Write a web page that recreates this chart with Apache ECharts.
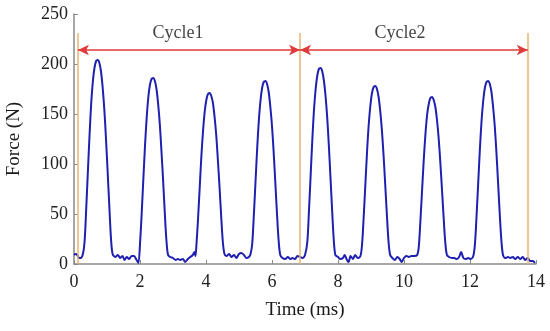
<!DOCTYPE html>
<html>
<head>
<meta charset="utf-8">
<script src="https://cdn.jsdelivr.net/npm/echarts@6/dist/echarts.min.js"></script>
<style>html,body{margin:0;padding:0;background:#fff;}#c{width:550px;height:331px;}</style>
</head>
<body>
<div id="c"></div>
<script>
// Time (ms)
var timeMs = [
 0, 0.05, 0.1, 0.15, 0.2, 0.27,
 0.32, 0.37, 0.42, 0.47, 0.52, 0.57, 0.62, 0.67, 0.72, 0.77, 0.82, 0.87, 0.92, 0.97, 1.02, 1.07, 1.12, 1.17,
 1.25, 1.33, 1.4, 1.47, 1.53, 1.6, 1.67, 1.75, 1.82, 1.88, 1.95,
 2.00, 2.05, 2.10, 2.15, 2.20, 2.25, 2.30, 2.35, 2.40, 2.45, 2.50, 2.55, 2.60, 2.65, 2.70, 2.75, 2.80, 2.85,
 2.92, 3.0, 3.08, 3.15, 3.22, 3.3, 3.37, 3.45, 3.52, 3.6, 3.65, 3.68,
 3.71, 3.76, 3.81, 3.86, 3.91, 3.96, 4.01, 4.06, 4.11, 4.16, 4.21, 4.26, 4.31, 4.36, 4.41, 4.46, 4.51, 4.56,
 4.62, 4.7, 4.77, 4.85, 4.92, 5.0, 5.07, 5.15, 5.22, 5.3, 5.35,
 5.40, 5.45, 5.50, 5.55, 5.60, 5.65, 5.70, 5.75, 5.80, 5.85, 5.90, 5.95, 6.00, 6.05, 6.10, 6.15, 6.20, 6.25,
 6.32, 6.4, 6.48, 6.55, 6.62, 6.7, 6.77, 6.85, 6.92, 7.0,
 7.07, 7.12, 7.17, 7.22, 7.27, 7.32, 7.37, 7.42, 7.47, 7.52, 7.57, 7.62, 7.67, 7.72, 7.77, 7.82, 7.87, 7.92,
 8.0, 8.07, 8.15, 8.2, 8.27, 8.32, 8.38, 8.45, 8.52, 8.6, 8.68,
 8.73, 8.78, 8.83, 8.88, 8.93, 8.98, 9.03, 9.08, 9.13, 9.18, 9.23, 9.28, 9.33, 9.38, 9.43, 9.48, 9.53, 9.58,
 9.65, 9.72, 9.8, 9.87, 9.93, 10.0, 10.07, 10.15, 10.22, 10.3, 10.4,
 10.45, 10.50, 10.55, 10.60, 10.65, 10.70, 10.75, 10.80, 10.85, 10.90, 10.95, 11.00, 11.05, 11.10, 11.15, 11.20, 11.25, 11.30,
 11.37, 11.45, 11.52, 11.6, 11.67, 11.73, 11.8, 11.87, 11.95, 12.02, 12.1,
 12.15, 12.20, 12.25, 12.30, 12.35, 12.40, 12.45, 12.50, 12.55, 12.60, 12.65, 12.70, 12.75, 12.80, 12.85, 12.90, 12.95, 13.00,
 13.07, 13.15, 13.22, 13.3, 13.37, 13.45, 13.52, 13.6, 13.67, 13.75, 13.82, 13.9, 13.97
];
// Force (N)
var forceN = [
 9, 10, 9, 6, 6, 10,
 22, 55, 92, 128, 160, 182, 196, 203, 204, 201, 192, 176, 154, 125, 92, 58, 26, 10,
 7, 9, 6, 8, 4, 7, 5, 8, 8, 5, 1,
 20, 50, 84, 117, 145, 166, 179, 185, 186, 183, 175, 160, 140, 113, 84, 52, 24, 9,
 7, 6, 4, 5, 4, 5, 2, 5, 7, 9, 12, 8,
 19, 46, 77, 108, 133, 152, 164, 170, 171, 168, 161, 147, 129, 104, 77, 48, 22, 10,
 8, 10, 7, 9, 6, 10, 11, 9, 6, 7, 10,
 20, 49, 82, 115, 143, 163, 176, 182, 183, 180, 172, 157, 138, 112, 82, 51, 24, 9,
 6, 5, 7, 5, 6, 5, 8, 7, 6, 9,
 22, 53, 88, 123, 153, 174, 188, 195, 196, 193, 184, 169, 148, 120, 88, 55, 25, 9,
 7, 5, 6, 9, 4, 2, 8, 5, 9, 6, 8,
 20, 48, 80, 112, 139, 158, 171, 177, 178, 175, 167, 153, 134, 109, 80, 50, 23, 9,
 6, 4, 7, 5, 2, 6, 8, 7, 8, 8, 9,
 18, 45, 75, 105, 130, 149, 160, 166, 167, 164, 157, 144, 126, 102, 75, 47, 22, 9,
 7, 6, 6, 5, 7, 12, 6, 5, 6, 5, 8,
 20, 49, 82, 115, 143, 163, 176, 182, 183, 180, 172, 157, 138, 112, 82, 51, 24, 9,
 6, 7, 6, 7, 5, 7, 5, 7, 4, 6, 3, 3, 1
];
// Annotations
var cycleBounds = [0.12, 6.85, 13.75];
var boundaryTop = 231;
var arrowLevel = 214;
var cycleNames = ['Cycle1', 'Cycle2'];
var cycleLabelX = [3.15, 9.88];
var cycleLabelY = 231;
var xTicks = {min: 0, max: 14, interval: 2};
var yTicks = {min: 0, max: 250, interval: 50};

var lineData = timeMs.map(function (t, i) { return [t, forceN[i]]; });
var font = 'Liberation Serif';

var vLines = cycleBounds.map(function (x) {
  return [{coord: [x, 0]}, {coord: [x, boundaryTop]}];
});
var arrows = [];
for (var i = 0; i < cycleBounds.length - 1; i++) {
  arrows.push([{coord: [cycleBounds[i], arrowLevel]}, {coord: [cycleBounds[i + 1], arrowLevel]}]);
}

var chart = echarts.init(document.getElementById('c'), null, {renderer: 'canvas'});
chart.setOption({
  animation: false,
  backgroundColor: '#ffffff',
  grid: {left: 74, right: 14, top: 14, bottom: 67, containLabel: false, outerBoundsMode: 'none'},
  xAxis: {
    type: 'value', min: xTicks.min, max: xTicks.max, interval: xTicks.interval,
    name: 'Time (ms)', nameLocation: 'middle', nameGap: 37,
    nameTextStyle: {fontFamily: font, fontSize: 19, color: '#1a1a1a'},
    axisLine: {lineStyle: {color: '#8a8a8a', width: 1.5}},
    axisTick: {inside: true, length: 4, lineStyle: {color: '#8a8a8a'}},
    axisLabel: {fontFamily: font, fontSize: 18, color: '#222', margin: 9},
    splitLine: {show: false}
  },
  yAxis: {
    type: 'value', min: yTicks.min, max: yTicks.max, interval: yTicks.interval,
    name: 'Force (N)', nameLocation: 'middle', nameGap: 50,
    nameTextStyle: {fontFamily: font, fontSize: 19, color: '#1a1a1a'},
    axisLine: {show: true, lineStyle: {color: '#8a8a8a', width: 1.5}},
    axisTick: {show: true, inside: true, length: 4, lineStyle: {color: '#8a8a8a'}},
    axisLabel: {fontFamily: font, fontSize: 18, color: '#222', margin: 6},
    splitLine: {show: false}
  },
  series: [
    {
      type: 'line', data: lineData, showSymbol: false, smooth: 0.3,
      lineStyle: {color: '#1f1fb0', width: 2},
      markLine: {
        silent: true, symbol: ['none', 'none'], animation: false,
        lineStyle: {color: '#e6b46e', width: 1.5, type: 'solid'},
        label: {show: false},
        data: vLines
      },
      z: 3
    },
    {
      type: 'line', data: [],
      markLine: {
        silent: true, symbol: ['arrow', 'arrow'], symbolSize: [8, 11], animation: false,
        lineStyle: {color: '#e03a3a', width: 1.5, type: 'solid'},
        label: {show: false},
        data: arrows
      },
      z: 4
    },
    {
      type: 'scatter', symbolSize: 0, silent: true,
      data: cycleNames.map(function (n, i) { return {value: [cycleLabelX[i], cycleLabelY], name: n}; }),
      label: {show: true, position: 'inside', formatter: '{b}', fontFamily: font, fontSize: 18,
              color: '#111', textBorderWidth: 0, textBorderColor: 'transparent'}
    }
  ]
});
</script>
</body>
</html>
